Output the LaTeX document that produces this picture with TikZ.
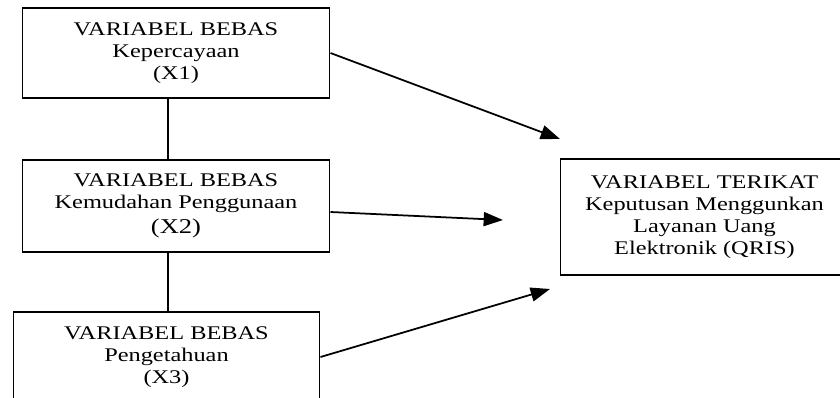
\documentclass[tikz,border=0pt]{standalone}
\usepackage{fontspec}
\setmainfont{Liberation Serif}[FakeStretch=1.26]
\usetikzlibrary{arrows.meta}
\begin{document}
\begin{tikzpicture}[x=0.02cm,y=-0.02cm,
  varbox/.style={draw,line width=0.6pt,align=center,inner sep=0pt,
    font=\fontsize{11}{12.4}\selectfont},
  link/.style={line width=1.5pt},
  panah/.style={line width=1pt,-{Triangle[length=11pt,width=8pt]}}]
\clip (0,0) rectangle (840,397);

% variabel bebas
\node[varbox,minimum width=6.16cm,minimum height=1.8cm] (x1) at (176,53)
  {VARIABEL BEBAS\\Kepercayaan\\(X1)};
\node[varbox,minimum width=6.16cm,minimum height=1.84cm] (x2) at (176,206)
  {VARIABEL BEBAS\\Kemudahan Penggunaan\\[2pt]{\fontsize{12}{14}\selectfont(X2)}};
\node[varbox,minimum width=6.14cm,minimum height=1.8cm] (x3) at (166.5,357)
  {VARIABEL BEBAS\\Pengetahuan\\(X3)};

% variabel terikat
\node[varbox,minimum width=5.78cm,minimum height=2.32cm] (y) at (704.5,217)
  {VARIABEL TERIKAT\\Keputusan Menggunkan\\Layanan Uang\\Elektronik (QRIS)};

\draw[link] ([xshift=-0.16cm]x1.south) -- ([xshift=-0.16cm]x2.north);
\draw[link] ([xshift=-0.16cm]x2.south) -- ([xshift=-0.16cm]x2.south |- x3.north);

\coordinate (t1) at (560,139);
\coordinate (t2) at (503,220);
\coordinate (t3) at (550,289);
\draw[panah] (x1.east) -- (t1);
\draw[panah] ([yshift=-0.12cm]x2.east) -- (t2);
\draw[panah] (x3.east) -- (t3);
\end{tikzpicture}
\end{document}
